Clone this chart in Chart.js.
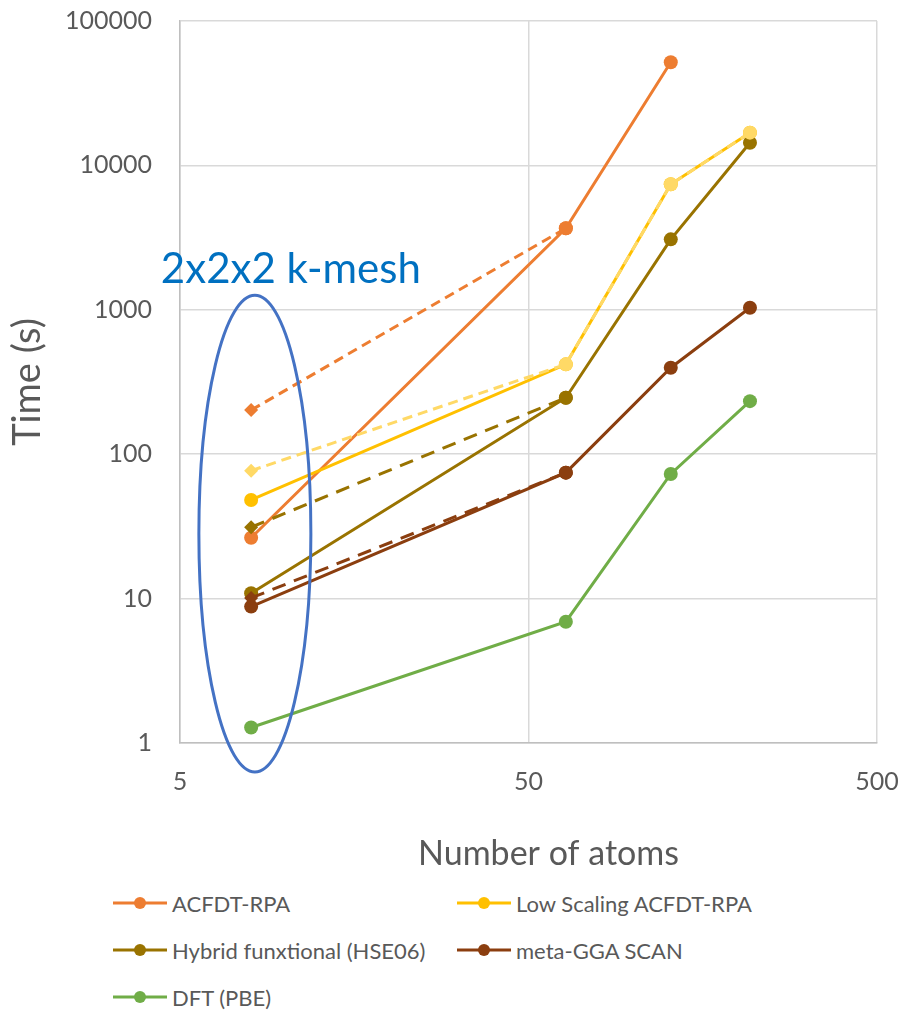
<!DOCTYPE html>
<html>
<head>
<meta charset="utf-8">
<script src="https://cdn.jsdelivr.net/npm/chart.js@4.4.1/dist/chart.umd.min.js"></script>
<style>
  html, body { margin: 0; padding: 0; background: #fff; }
  #wrap { position: relative; width: 904px; height: 1011px; }
  #box { position: absolute; left: 0; top: 0; width: 904px; height: 880px; }
  .leg { position: absolute; height: 30px; display: flex; align-items: center;
         font-family: Lato, sans-serif; font-size: 22px; color: #595959; white-space: nowrap; }
  .leg svg { margin-right: 5px; }
</style>
</head>
<body>
<div id="wrap">
  <div id="box"><canvas id="chart"></canvas></div>
  <div id="legend"></div>
</div>
<script>
const atoms = [8, 64, 128, 216];
const xTicks = [5, 50, 500];
const yTicks = [1, 10, 100, 1000, 10000, 100000];

const names = ['ACFDT-RPA', 'Low Scaling ACFDT-RPA', 'Hybrid funxtional (HSE06)', 'meta-GGA SCAN', 'DFT (PBE)'];
const colors = ['#ED7D31', '#FFC000', '#997300', '#8B3E0F', '#70AD47'];

// solid series
const acfdtRpa = [26.4, 3670, 51800, null];
const lowScaling = [48.2, 419, 7400, 16860];
const hybrid = [10.9, 246, 3076, 14360];
const metaGga = [8.8, 74.5, 397, 1034];
const dftPbe = [1.28, 6.92, 73, 233];

// dashed series (2x2x2 k-mesh at 8 atoms)
const acfdtRpaK = [202, 3670, null, null];
const lowScalingK = [76.9, 419, 7400, 16860];
const hybridK = [31.2, 246, null, null];
const metaGgaK = [10.1, 74.5, null, null];

const font = 'Lato';
const xTitle = 'Number of atoms';

function pts(arr) {
    return arr.map((v, i) => ({x: atoms[i], y: v}));
}

function solid(label, arr, color) {
    return {
        label: label,
        data: pts(arr),
        borderColor: color,
        backgroundColor: color,
        borderWidth: 3,
        pointRadius: 7,
        pointBorderWidth: 0,
        pointBackgroundColor: color
    };
}

function dashed(label, arr, color, dash) {
    return {
        label: label,
        data: pts(arr),
        borderColor: color,
        backgroundColor: color,
        borderWidth: 3,
        borderDash: dash,
        pointRadius: 7,
        pointBorderWidth: 0,
        pointStyle: arr.map((v, i) => (i === 0 ? 'rectRot' : 'circle')),
        pointBackgroundColor: color
    };
}

// first dataset is drawn on top in Chart.js
const datasets = [
    dashed('Low Scaling ACFDT-RPA (k)', lowScalingK, '#FFD966', [10, 6]),
    dashed('meta-GGA SCAN (k)', metaGgaK, colors[3], [14, 9]),
    dashed('Hybrid (k)', hybridK, colors[2], [14, 9]),
    dashed('ACFDT-RPA (k)', acfdtRpaK, colors[0], [10, 6]),
    solid(names[4], dftPbe, colors[4]),
    solid(names[3], metaGga, colors[3]),
    solid(names[2], hybrid, colors[2]),
    solid(names[1], lowScaling, colors[1]),
    solid(names[0], acfdtRpa, colors[0])
];

const kmesh = {
    text: '2x2x2 k-mesh',
    atoms: 8.2,
    top: 1260,
    bottom: 0.63,
    rx: 56
};

const annotate = {
    id: 'annotate',
    afterDatasetsDraw(chart) {
        const ctx = chart.ctx;
        const xs = chart.scales.x, ys = chart.scales.y;
        const cx = xs.getPixelForValue(kmesh.atoms);
        const y1 = ys.getPixelForValue(kmesh.top);
        const y2 = ys.getPixelForValue(kmesh.bottom);
        ctx.save();
        ctx.beginPath();
        ctx.ellipse(cx, (y1 + y2) / 2, kmesh.rx, (y2 - y1) / 2, 0, 0, Math.PI * 2);
        ctx.strokeStyle = '#4472C4';
        ctx.lineWidth = 3;
        ctx.stroke();
        ctx.font = '42px ' + font;
        ctx.fillStyle = '#0070C0';
        ctx.textBaseline = 'alphabetic';
        ctx.fillText(kmesh.text, cx - 94, y1 - 12);

        // x axis title, a bit right of centre like the original
        ctx.font = '34px ' + font;
        ctx.fillStyle = '#595959';
        ctx.textAlign = 'center';
        ctx.fillText(xTitle, (xs.left + xs.right) / 2 + 20, xs.bottom - 15);
        ctx.restore();
    }
};

new Chart(document.getElementById('chart'), {
    type: 'line',
    data: { datasets: datasets },
    plugins: [annotate],
    options: {
        responsive: true,
        maintainAspectRatio: false,
        animation: false,
        layout: { padding: { top: 21, right: 27, left: 0, bottom: 0 } },
        plugins: {
            legend: { display: false },
            tooltip: { enabled: false }
        },
        scales: {
            x: {
                type: 'logarithmic',
                min: 5,
                max: 500,
                afterBuildTicks: s => { s.ticks = xTicks.map(v => ({value: v})); },
                afterFit: s => { s.height = 880 - 743; },
                ticks: {
                    callback: v => String(v),
                    font: { family: font, size: 25 },
                    color: '#595959',
                    padding: 0,
                    maxRotation: 0
                },
                grid: { color: '#D9D9D9', lineWidth: 1.5, drawTicks: true, tickLength: 24, tickColor: 'rgba(0,0,0,0)' },
                border: { color: '#BFBFBF', width: 1.5 },
                title: { display: false }
            },
            y: {
                type: 'logarithmic',
                min: 1,
                max: 100000,
                afterBuildTicks: s => { s.ticks = yTicks.map(v => ({value: v})); },
                afterFit: s => { s.width = 180; },
                ticks: {
                    callback: v => String(v),
                    font: { family: font, size: 25 },
                    color: '#595959',
                    padding: 2
                },
                grid: { color: '#D9D9D9', lineWidth: 1.5, drawTicks: true, tickLength: 26, tickColor: 'rgba(0,0,0,0)' },
                border: { color: '#BFBFBF', width: 1.5 },
                title: {
                    display: true,
                    text: 'Time (s)',
                    font: { family: font, size: 38 },
                    color: '#595959',
                    padding: { top: 5, bottom: 0 }
                }
            }
        }
    }
});

// legend, two columns like the original
const legendPos = [[113, 888], [457, 888], [113, 935], [457, 935], [113, 982]];
const legend = document.getElementById('legend');
names.forEach((name, i) => {
    const d = document.createElement('div');
    d.className = 'leg';
    d.style.left = legendPos[i][0] + 'px';
    d.style.top = legendPos[i][1] + 'px';
    d.innerHTML = '<svg width="54" height="16"><line x1="0" y1="8" x2="54" y2="8" stroke="' + colors[i] +
        '" stroke-width="3"/><circle cx="27" cy="8" r="6" fill="' + colors[i] + '"/></svg>';
    const t = document.createElement('span');
    t.textContent = name;
    d.appendChild(t);
    legend.appendChild(d);
});
</script>
</body>
</html>
